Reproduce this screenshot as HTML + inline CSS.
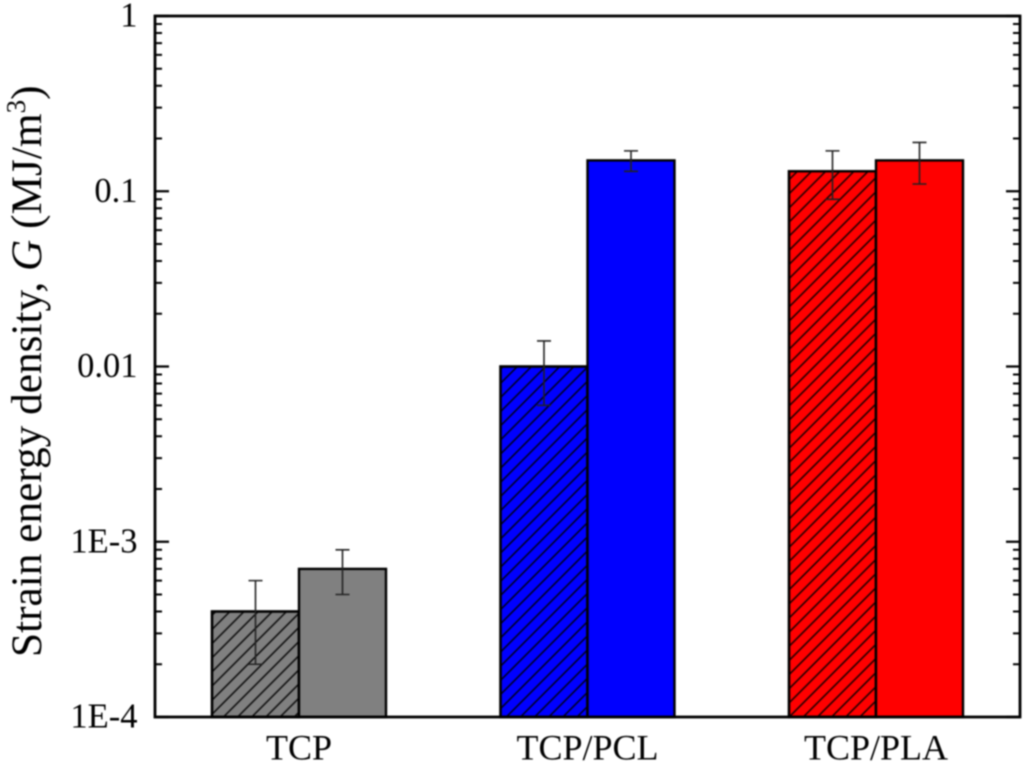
<!DOCTYPE html>
<html lang="en">
<head>
<meta charset="utf-8">
<title>Strain energy density chart</title>
<style>
html,body{margin:0;padding:0;background:#fff;width:1024px;height:762px;overflow:hidden}
svg{display:block;filter:blur(0.8px)}
text{font-family:"Liberation Serif",serif;fill:#000}
</style>
</head>
<body>
<svg id="chart" xmlns="http://www.w3.org/2000/svg" width="1024" height="762" viewBox="0 0 1024 762">
<defs>
<pattern id="hatch" patternUnits="userSpaceOnUse" width="10" height="10" patternTransform="rotate(45)">
<line x1="5" y1="0" x2="5" y2="10" stroke="#000" stroke-width="1.4"/>
</pattern>
</defs>
<g id="bars"></g>
<g id="errors"></g>
<g id="axes"></g>
<text transform="translate(41,657) rotate(-90)" font-size="43.3">Strain energy density, <tspan font-style="italic">G</tspan> (MJ/m<tspan font-size="27" dy="-16">3</tspan><tspan dy="16">)</tspan></text>
</svg>
<script>
var categories = ["TCP", "TCP/PCL", "TCP/PLA"];
var seriesHatched = [0.0004, 0.01, 0.13];
var seriesSolid = [0.0007, 0.15, 0.15];
var hatchedLow = [0.0002, 0.006, 0.09];
var hatchedHigh = [0.0006, 0.014, 0.17];
var solidLow = [0.0005, 0.13, 0.11];
var solidHigh = [0.0009, 0.17, 0.19];
var colors = ["#808080", "#0000ff", "#ff0000"];
var yTickValues = [1, 0.1, 0.01, 0.001, 0.0001];
var yTickLabels = ["1", "0.1", "0.01", "1E-3", "1E-4"];

var NS = "http://www.w3.org/2000/svg";
var plotLeft = 155, plotRight = 1020, plotTop = 16, plotBottom = 717;
var yMinExp = -4, yMaxExp = 0;
var firstCenter = 299, categoryStep = 288.5, barWidth = 87;

function yScale(v) {
  return plotBottom - (Math.log10(v) - yMinExp) / (yMaxExp - yMinExp) * (plotBottom - plotTop);
}
function xCenter(i) {
  return firstCenter + i * categoryStep;
}
function make(tag, attrs, parent) {
  var el = document.createElementNS(NS, tag);
  for (var k in attrs) el.setAttribute(k, attrs[k]);
  parent.appendChild(el);
  return el;
}

var barsG = document.getElementById("bars");
var errG = document.getElementById("errors");
var axesG = document.getElementById("axes");

function drawBar(i, x, value, hatched, slug) {
  var y = yScale(value);
  var r = make("rect", {x: x, y: y, width: barWidth, height: plotBottom - y, fill: colors[i], stroke: "#000", "stroke-width": 2.4}, barsG);
  
  
  if (hatched) {
    var h = make("rect", {x: x, y: y, width: barWidth, height: plotBottom - y, fill: "url(#hatch)", stroke: "#000", "stroke-width": 2.4}, barsG);
    
    
  }
}
function drawError(cx, low, high, slug) {
  var yl = yScale(low), yh = yScale(high);
  var d = "M" + cx + " " + yh + "V" + yl + "M" + (cx - 7) + " " + yh + "H" + (cx + 7) + "M" + (cx - 7) + " " + yl + "H" + (cx + 7);
  var p = make("path", {d: d, fill: "none", stroke: "#222", "stroke-width": 1.6}, errG);
  
  
}

categories.forEach(function (c, i) {
  var cx = xCenter(i);
  var slug = c.toLowerCase().replace("/", "-");
  drawBar(i, cx - barWidth, seriesHatched[i], true, slug + "-hatched");
  drawBar(i, cx, seriesSolid[i], false, slug + "-solid");
  drawError(cx - barWidth / 2, hatchedLow[i], hatchedHigh[i], slug + "-hatched");
  drawError(cx + barWidth / 2, solidLow[i], solidHigh[i], slug + "-solid");
  var t = make("text", {x: cx, y: 759.5, "font-size": 36, "text-anchor": "middle"}, axesG);
  
  
  t.textContent = c;
});

var frame = make("rect", {x: plotLeft, y: plotTop, width: plotRight - plotLeft, height: plotBottom - plotTop, fill: "none", stroke: "#000", "stroke-width": 2.8}, axesG);



yTickValues.forEach(function (v, i) {
  var y = yScale(v);
  var label = make("text", {x: 137.5, y: y + 10.5, "font-size": 34.5, "text-anchor": "end"}, axesG);
  
  
  label.textContent = yTickLabels[i];
  var major = make("path", {d: "M" + plotLeft + " " + y + "h14M" + plotRight + " " + y + "h-14", stroke: "#000", "stroke-width": 2.2}, axesG);
  
  
  if (v > yTickValues[yTickValues.length - 1]) {
    for (var m = 2; m <= 9; m++) {
      var my = yScale(v / 10 * m);
      var minor = make("path", {d: "M" + plotLeft + " " + my + "h7M" + plotRight + " " + my + "h-7", stroke: "#000", "stroke-width": 2}, axesG);
      
      
    }
  }
});
</script>
</body>
</html>
